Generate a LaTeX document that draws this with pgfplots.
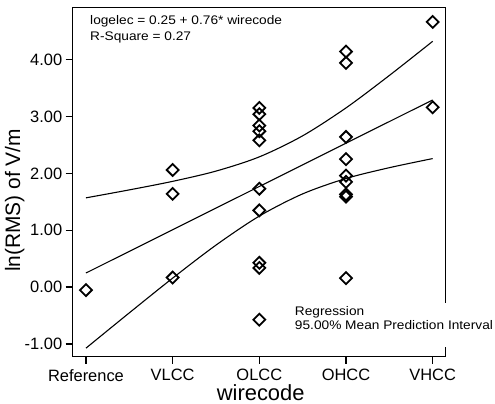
\documentclass[border=0pt]{standalone}
\usepackage{fontspec}
\setmainfont{Liberation Sans}
\newfontfamily\widefont[FakeStretch=1.1]{Liberation Sans}
\usepackage{pgfplots}
\pgfplotsset{compat=1.18}

\begin{document}
\begin{tikzpicture}
\begin{axis}[
    scale only axis,
    width=373bp, height=349bp,
    xmin=-0.153, xmax=4.15,
    ymin=-1.22, ymax=4.91,
    xtick={0,1,2,3,4},
    xticklabels={Reference,VLCC,OLCC,OHCC,VHCC},
    ytick={-1,0,1,2,3,4},
    yticklabel={\pgfmathprintnumber[fixed,fixed zerofill,precision=2]{\tick}},
    /pgf/number format/assume math mode=true,
    tick align=outside,
    xtick pos=left, ytick pos=left,
    major tick length=7bp,
    tick style={line width=1.5bp, black},
    axis line style={line width=1.3bp},
    tick label style={font=\fontsize{16.5}{16.5}\selectfont},
    xticklabel style={yshift=-2bp},
    xlabel={wirecode},
    ylabel={ln(RMS) of V/m},
    xlabel style={font=\fontsize{22}{22}\selectfont, at={(rel axis cs:0.504,0)}, anchor=base, inner sep=0pt, yshift=-44bp},
    ylabel style={font=\fontsize{21}{21}\selectfont, at={(rel axis cs:0,0.448)}, anchor=center, yshift=58bp},
]
% data points; the lowest OLCC diamond doubles as the legend symbol
\addplot[only marks, mark=square, mark size=4.2bp,
    mark options={rotate=45, line width=1.8bp, black}] coordinates {
    (0,-0.05)
    (1,2.06) (1,1.64) (1,0.17)
    (2,3.15) (2,3.04) (2,2.84) (2,2.74) (2,2.58) (2,1.73) (2,1.35) (2,0.43) (2,0.34) (2,-0.57)
    (3,4.14) (3,3.94) (3,2.64) (3,2.25) (3,1.96) (3,1.85) (3,1.63) (3,1.59) (3,0.16)
    (4,4.66) (4,3.16)
};

\addplot[black, line width=1.1bp] coordinates {(0,0.25) (4,3.29)};
\addplot[black, line width=1.1bp, smooth] coordinates {
    (0,1.57) (0.5,1.71) (1,1.86) (1.5,2.04) (2,2.29) (2.5,2.66) (3,3.15) (3.5,3.72) (4,4.32)};
\addplot[black, line width=1.1bp, smooth] coordinates {
    (0,-1.07) (0.5,-0.45) (1,0.16) (1.5,0.74) (2,1.25) (2.5,1.64) (3,1.91) (3.5,2.10) (4,2.26)};

\node[anchor=base west, font=\widefont\fontsize{12.5}{14}\selectfont] at (rel axis cs:0.0375,0.951) {logelec = 0.25 + 0.76* wirecode};
\node[anchor=base west, font=\widefont\fontsize{12.5}{14}\selectfont] at (rel axis cs:0.0375,0.905) {R-Square = 0.27};

\coordinate (gapA) at (axis cs:4.08,-0.275);
\coordinate (gapB) at (axis cs:4.22,-1.047);
\coordinate (leg1) at (axis cs:2.409,-0.49);
\coordinate (leg2) at (axis cs:2.409,-0.735);
\end{axis}
\fill[white] (gapA) rectangle (gapB);
\node[anchor=base west, inner sep=0pt, font=\widefont\fontsize{12.5}{14}\selectfont] at (leg1) {Regression};
\node[anchor=base west, inner sep=0pt, font=\widefont\fontsize{12.5}{14}\selectfont] at (leg2) {95.00\% Mean Prediction Interval};
\pgfresetboundingbox
\path[use as bounding box] (current axis.south west) ++(-72.7bp,-47.3bp) rectangle ++(495bp,404bp);
\end{tikzpicture}
\end{document}
